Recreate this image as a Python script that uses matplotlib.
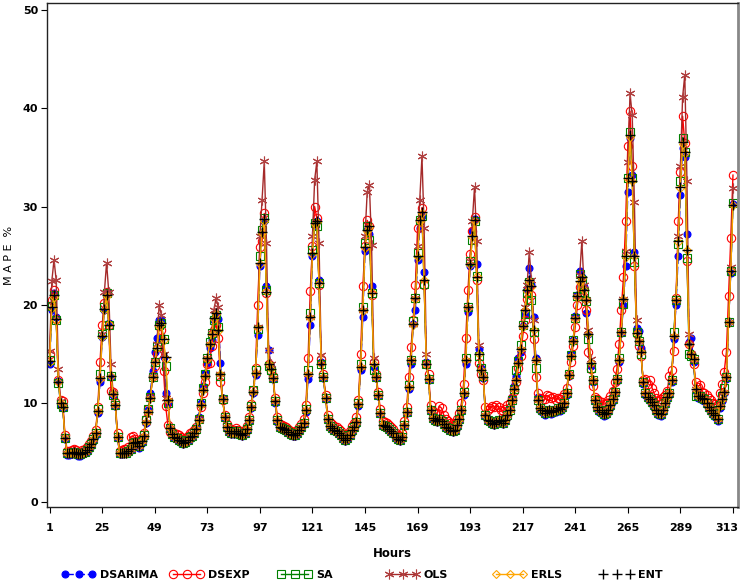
import matplotlib
matplotlib.use('Agg')
import matplotlib.pyplot as plt
import matplotlib.transforms as mtransforms
from matplotlib.lines import Line2D

hours = list(range(1, 314))
xticks = list(range(1, 314, 24))
yticks = [0, 10, 20, 30, 40, 50]
names = ['DSARIMA', 'DSEXP', 'SA', 'OLS', 'ERLS', 'ENT']

dsarima = [
 14.0, 19.5, 21.2, 18.8, 12.3, 9.8, 9.5, 6.4, 4.7, 4.7, 4.8, 4.9, 4.8, 4.6, 4.6, 4.8, 4.9, 5.1, 5.4, 5.7, 6.2, 6.8, 9.0, 12.2,
 16.7, 19.5, 21.3, 18.2, 12.7, 10.8, 9.7, 6.5, 4.8, 4.8, 4.9, 4.9, 5.1, 5.3, 5.8, 5.9, 5.8, 5.5, 6.0, 6.6, 8.0, 9.3, 11.0, 13.3,
 15.2, 16.6, 18.5, 18.5, 14.7, 11.1, 10.0, 7.4, 6.8, 6.5, 6.4, 6.2, 6.0, 5.9, 6.0, 6.2, 6.4, 6.6, 6.9, 7.5, 8.6, 10.0, 11.8, 13.1,
 14.1, 15.6, 16.4, 18.5, 19.0, 18.6, 14.1, 10.5, 8.5, 7.5, 7.1, 6.9, 6.9, 7.1, 6.9, 6.8, 6.7, 6.9, 7.3, 8.2, 9.5, 11.0, 12.9, 16.9,
 24.0, 27.3, 28.5, 21.9, 15.4, 13.7, 12.5, 10.0, 8.1, 7.5, 7.4, 7.3, 7.2, 7.0, 6.8, 6.7, 6.7, 6.9, 7.2, 7.5, 7.9, 9.1, 12.5, 18.0,
 25.0, 28.0, 28.5, 22.5, 14.2, 12.6, 10.4, 8.3, 7.6, 7.4, 7.2, 7.1, 6.9, 6.7, 6.4, 6.2, 6.4, 6.7, 7.2, 7.5, 8.0, 9.7, 13.4, 18.8,
 25.5, 27.6, 27.2, 21.9, 13.7, 12.6, 10.7, 8.9, 7.7, 7.6, 7.5, 7.3, 7.1, 6.9, 6.5, 6.3, 6.2, 6.5, 7.7, 9.0, 11.5, 14.0, 18.1, 19.5,
 24.6, 27.8, 29.0, 23.4, 14.2, 12.4, 9.2, 8.4, 8.2, 8.1, 8.3, 8.1, 7.8, 7.5, 7.4, 7.2, 7.1, 7.2, 7.7, 8.3, 9.2, 10.8, 14.0, 19.3,
 24.0, 27.5, 28.7, 24.2, 15.5, 13.6, 12.6, 8.7, 8.2, 8.1, 7.9, 7.8, 8.0, 8.2, 8.1, 7.9, 8.2, 8.8, 9.4, 10.6, 11.8, 12.8, 14.6, 15.2,
 17.9, 19.1, 21.5, 23.8, 22.0, 18.8, 14.6, 10.6, 9.3, 9.1, 8.8, 9.0, 9.1, 8.9, 9.0, 9.1, 9.3, 9.2, 9.4, 9.8, 10.8, 12.8, 15.0, 16.4,
 18.9, 21.0, 23.5, 22.8, 21.8, 19.2, 17.0, 13.8, 12.2, 10.2, 9.4, 9.1, 8.9, 8.7, 8.8, 9.1, 9.6, 10.2, 11.0, 12.3, 14.2, 17.1, 20.0, 24.0,
 31.5, 37.0, 33.2, 25.4, 17.7, 17.4, 15.6, 12.0, 10.8, 10.4, 10.2, 9.9, 9.6, 9.1, 8.8, 8.7, 9.1, 9.8, 10.4, 10.8, 12.2, 16.5, 20.0, 25.0,
 31.2, 36.0, 35.0, 27.2, 16.2, 16.6, 14.2, 11.3, 10.5, 10.5, 10.3, 10.2, 9.8, 9.4, 9.1, 8.8, 8.6, 8.2, 9.5, 10.2, 11.0, 12.5, 18.3, 23.3,
 30.3]

dsexp = [
 15.0, 20.5, 21.5, 18.6, 12.4, 10.3, 10.2, 6.8, 5.2, 5.2, 5.3, 5.4, 5.3, 5.1, 5.1, 5.3, 5.4, 5.6, 5.9, 6.2, 6.7, 7.3, 9.6, 14.2,
 18.0, 20.2, 21.3, 18.0, 11.3, 11.2, 10.1, 7.0, 5.2, 5.3, 5.4, 5.4, 5.6, 6.6, 6.7, 6.4, 6.2, 6.0, 6.5, 7.0, 8.4, 9.4, 10.6, 12.8,
 13.8, 15.0, 17.9, 17.5, 13.3, 9.7, 7.8, 7.1, 7.0, 7.0, 6.9, 6.8, 6.6, 6.4, 6.5, 6.7, 7.0, 7.1, 7.3, 7.6, 8.4, 9.6, 11.0, 12.2,
 14.0, 14.1, 15.8, 17.5, 18.0, 16.6, 12.2, 10.3, 8.8, 7.9, 7.5, 7.3, 7.3, 7.5, 7.3, 7.2, 7.1, 7.3, 7.7, 8.6, 9.9, 11.4, 13.6, 20.0,
 25.9, 26.5, 29.3, 21.2, 14.0, 13.3, 12.8, 10.5, 8.6, 7.9, 7.8, 7.7, 7.6, 7.4, 7.2, 7.1, 7.1, 7.3, 7.6, 7.9, 8.4, 9.8, 14.6, 21.4,
 26.0, 30.0, 28.8, 22.0, 14.5, 13.0, 10.8, 8.8, 8.1, 7.9, 7.7, 7.6, 7.4, 7.2, 6.9, 6.7, 6.9, 7.2, 7.7, 8.0, 8.6, 10.3, 15.0, 21.9,
 26.0, 28.6, 28.0, 21.0, 14.2, 13.0, 11.2, 9.4, 8.2, 8.1, 8.0, 7.8, 7.6, 7.4, 7.0, 6.8, 6.7, 7.0, 8.2, 9.6, 12.7, 15.7, 18.5, 22.0,
 27.8, 28.5, 29.9, 22.0, 14.0, 13.0, 9.8, 9.2, 9.0, 9.0, 9.7, 9.5, 8.8, 8.4, 8.2, 8.0, 7.9, 8.0, 8.4, 9.0, 10.0, 12.0, 16.6, 21.5,
 25.2, 27.5, 28.9, 22.5, 14.1, 13.0, 12.4, 9.6, 9.3, 9.5, 9.7, 9.6, 9.8, 9.6, 9.3, 9.2, 9.4, 9.8, 10.0, 10.5, 11.3, 12.2, 13.6, 14.8,
 16.8, 18.5, 20.6, 21.8, 21.0, 16.5, 12.7, 11.0, 10.5, 10.3, 10.4, 10.8, 10.7, 10.5, 10.6, 10.3, 10.5, 10.4, 10.6, 10.9, 11.6, 12.9, 14.2, 15.8,
 17.8, 20.0, 21.8, 22.2, 20.8, 19.5, 15.2, 13.5, 11.8, 10.6, 10.4, 10.2, 10.1, 9.9, 10.0, 10.3, 10.7, 11.3, 12.2, 13.5, 16.0, 19.5, 22.8, 28.5,
 36.2, 39.7, 34.1, 24.0, 17.0, 15.8, 14.8, 12.4, 12.5, 12.0, 12.4, 11.6, 11.0, 10.5, 10.2, 10.4, 10.6, 10.8, 11.3, 12.8, 13.4, 15.3, 20.7, 28.5,
 33.5, 39.2, 36.5, 24.5, 16.0, 15.0, 14.0, 12.2, 11.7, 11.9, 11.2, 11.0, 10.8, 10.5, 10.3, 10.0, 9.9, 9.8, 11.0, 12.0, 13.2, 15.2, 20.9, 26.8,
 33.2]

sa = [
 14.4, 19.9, 21.0, 18.5, 12.1, 9.9, 9.6, 6.5, 4.9, 4.9, 5.0, 5.1, 5.0, 4.8, 4.8, 5.0, 5.1, 5.3, 5.6, 5.9, 6.4, 7.0, 9.4, 13.0,
 17.0, 19.8, 21.2, 18.0, 12.8, 10.8, 9.8, 6.6, 4.9, 4.9, 5.0, 5.0, 5.2, 5.4, 6.0, 6.1, 6.0, 5.7, 6.2, 6.8, 8.3, 9.4, 10.6, 12.7,
 14.2, 15.8, 18.0, 18.2, 16.5, 13.8, 10.0, 7.5, 6.9, 6.6, 6.5, 6.3, 6.2, 6.0, 6.1, 6.3, 6.6, 6.7, 7.0, 7.4, 8.4, 10.0, 11.6, 13.0,
 14.6, 16.2, 17.2, 18.5, 19.0, 17.8, 12.8, 10.4, 8.6, 7.6, 7.2, 7.0, 7.0, 7.2, 7.0, 6.9, 6.8, 7.0, 7.4, 8.3, 9.7, 11.4, 13.4, 17.6,
 25.0, 27.6, 28.8, 21.5, 13.8, 13.4, 12.6, 10.2, 8.3, 7.6, 7.5, 7.4, 7.3, 7.1, 6.9, 6.8, 6.8, 7.0, 7.3, 7.6, 8.0, 9.4, 13.4, 19.2,
 25.6, 28.3, 28.0, 22.2, 14.0, 12.7, 10.5, 8.4, 7.7, 7.5, 7.3, 7.2, 7.0, 6.8, 6.5, 6.3, 6.5, 6.8, 7.3, 7.6, 8.1, 10.0, 14.0, 19.8,
 26.3, 28.0, 26.6, 21.2, 13.4, 12.7, 10.8, 9.0, 7.8, 7.7, 7.6, 7.4, 7.2, 7.0, 6.6, 6.4, 6.3, 6.6, 7.8, 9.1, 11.9, 14.4, 18.4, 20.7,
 25.3, 28.6, 29.0, 22.1, 14.0, 12.5, 9.3, 8.5, 8.3, 8.2, 8.4, 8.2, 7.9, 7.6, 7.5, 7.3, 7.2, 7.3, 7.8, 8.4, 9.3, 11.2, 14.6, 19.8,
 24.5, 26.6, 28.5, 22.9, 14.8, 13.6, 12.8, 8.8, 8.3, 8.2, 8.0, 7.9, 8.1, 8.3, 8.2, 8.0, 8.3, 8.8, 9.3, 10.3, 11.5, 13.4, 14.3, 15.9,
 18.0, 19.1, 21.2, 22.3, 20.5, 17.3, 13.6, 10.3, 9.5, 9.3, 9.0, 9.2, 9.3, 9.1, 9.2, 9.3, 9.5, 9.4, 9.6, 10.0, 11.1, 13.0, 14.9, 16.4,
 18.7, 20.9, 23.1, 22.5, 21.3, 20.4, 16.5, 13.6, 12.4, 10.3, 9.6, 9.3, 9.1, 8.9, 9.0, 9.3, 9.8, 10.4, 11.2, 12.5, 14.6, 17.3, 20.1, 25.2,
 32.9, 37.6, 32.9, 24.4, 17.3, 16.3, 15.0, 12.2, 11.0, 10.6, 10.4, 10.1, 9.8, 9.3, 9.0, 8.9, 9.3, 10.0, 10.6, 11.0, 12.4, 17.3, 20.5, 26.2,
 32.6, 37.0, 35.6, 24.8, 15.0, 14.8, 14.5, 10.7, 10.7, 10.7, 10.5, 10.4, 10.0, 9.6, 9.3, 9.0, 8.8, 8.4, 9.8, 10.7, 11.6, 12.7, 18.3, 23.5,
 30.4]

ols = [
 15.3, 22.4, 24.6, 22.5, 13.5, 10.2, 9.7, 6.6, 4.9, 4.9, 5.0, 5.1, 5.0, 4.8, 4.8, 5.0, 5.1, 5.3, 5.6, 5.9, 6.4, 7.0, 9.2, 12.6,
 17.0, 21.3, 24.3, 21.3, 14.0, 11.0, 9.8, 6.6, 4.9, 4.9, 5.0, 5.0, 5.2, 5.4, 6.0, 6.1, 6.0, 5.7, 6.2, 6.7, 8.1, 9.1, 10.5, 12.7,
 14.3, 16.0, 20.0, 19.0, 15.0, 10.5, 10.3, 7.5, 6.9, 6.6, 6.5, 6.3, 6.2, 6.0, 6.1, 6.3, 6.6, 6.7, 7.0, 7.4, 8.3, 9.8, 11.4, 12.8,
 14.6, 16.0, 17.2, 19.5, 20.7, 19.8, 13.0, 10.4, 8.6, 7.6, 7.2, 7.0, 7.0, 7.2, 7.0, 6.9, 6.8, 7.0, 7.4, 8.3, 9.6, 11.2, 13.1, 17.8,
 27.0, 30.7, 34.6, 26.3, 15.4, 14.0, 12.6, 10.2, 8.3, 7.6, 7.5, 7.4, 7.3, 7.1, 6.9, 6.8, 6.8, 7.0, 7.3, 7.6, 8.0, 9.3, 13.0, 18.8,
 27.0, 32.7, 34.6, 26.3, 14.9, 12.7, 10.5, 8.4, 7.7, 7.5, 7.3, 7.2, 7.0, 6.8, 6.5, 6.3, 6.5, 6.8, 7.3, 7.6, 8.1, 9.9, 13.7, 19.5,
 27.0, 31.5, 32.2, 26.1, 14.6, 12.7, 10.8, 9.0, 7.8, 7.7, 7.6, 7.4, 7.2, 7.0, 6.6, 6.4, 6.3, 6.6, 7.8, 9.1, 11.7, 14.4, 18.1, 20.7,
 26.0, 30.7, 35.1, 27.8, 15.0, 12.5, 9.3, 8.5, 8.3, 8.2, 8.4, 8.2, 7.9, 7.6, 7.5, 7.3, 7.2, 7.3, 7.8, 8.4, 9.3, 11.0, 14.4, 19.8,
 24.5, 28.5, 32.0, 26.5, 15.9, 13.4, 12.7, 8.8, 8.3, 8.2, 8.0, 7.9, 8.1, 8.3, 8.2, 8.0, 8.3, 8.8, 9.3, 10.3, 11.5, 12.4, 14.1, 15.5,
 17.9, 19.8, 22.0, 25.4, 22.5, 18.5, 14.4, 10.3, 9.5, 9.3, 9.0, 9.2, 9.3, 9.1, 9.2, 9.3, 9.5, 9.4, 9.6, 10.0, 11.0, 12.9, 14.8, 16.3,
 18.7, 20.9, 23.0, 26.5, 22.0, 20.5, 17.5, 14.5, 12.4, 10.3, 9.6, 9.3, 9.1, 8.9, 9.0, 9.3, 9.8, 10.4, 11.2, 12.5, 14.4, 17.3, 20.6, 25.5,
 34.5, 41.5, 39.3, 30.5, 18.5, 16.3, 15.2, 12.2, 11.0, 10.6, 10.4, 10.1, 9.8, 9.3, 9.0, 8.9, 9.3, 10.0, 10.6, 11.0, 12.4, 16.8, 20.5, 27.0,
 34.1, 41.1, 43.4, 32.6, 17.0, 15.0, 14.5, 11.5, 10.7, 10.7, 10.5, 10.4, 10.0, 9.6, 9.3, 9.0, 8.8, 8.4, 9.7, 10.4, 11.2, 12.7, 18.3, 23.9,
 31.9]

erls = [
 14.2, 19.7, 20.8, 18.5, 12.2, 10.0, 9.6, 6.5, 4.9, 4.9, 5.0, 5.1, 5.0, 4.8, 4.8, 5.0, 5.1, 5.3, 5.6, 5.9, 6.4, 7.0, 9.2, 12.5,
 16.7, 19.5, 20.9, 18.1, 12.8, 10.9, 9.8, 6.6, 4.9, 4.9, 5.0, 5.0, 5.2, 5.4, 6.0, 6.1, 6.0, 5.7, 6.2, 6.7, 8.1, 9.1, 10.5, 12.7,
 14.2, 15.6, 17.9, 18.1, 16.4, 14.5, 10.3, 7.5, 6.9, 6.6, 6.5, 6.3, 6.2, 6.0, 6.1, 6.3, 6.6, 6.7, 7.0, 7.4, 8.3, 9.8, 11.4, 12.8,
 14.5, 16.0, 17.0, 18.6, 19.1, 17.4, 13.0, 10.4, 8.6, 7.6, 7.2, 7.0, 7.0, 7.2, 7.0, 6.9, 6.8, 7.0, 7.4, 8.3, 9.6, 11.2, 13.1, 17.7,
 24.2, 27.3, 28.5, 21.4, 14.0, 13.5, 12.6, 10.2, 8.3, 7.6, 7.5, 7.4, 7.3, 7.1, 6.9, 6.8, 6.8, 7.0, 7.3, 7.6, 8.0, 9.3, 13.0, 18.7,
 25.2, 28.2, 28.4, 22.2, 14.0, 12.7, 10.5, 8.4, 7.7, 7.5, 7.3, 7.2, 7.0, 6.8, 6.5, 6.3, 6.5, 6.8, 7.3, 7.6, 8.1, 9.9, 13.7, 19.4,
 25.8, 27.5, 27.9, 21.3, 14.0, 12.7, 10.8, 9.0, 7.8, 7.7, 7.6, 7.4, 7.2, 7.0, 6.6, 6.4, 6.3, 6.6, 7.8, 9.1, 11.7, 14.4, 18.0, 20.6,
 24.9, 28.5, 29.4, 22.5, 14.0, 12.5, 9.3, 8.5, 8.3, 8.2, 8.4, 8.2, 7.9, 7.6, 7.5, 7.3, 7.2, 7.3, 7.8, 8.4, 9.3, 11.0, 14.4, 19.7,
 24.1, 26.9, 28.5, 22.9, 15.0, 13.4, 12.7, 8.8, 8.3, 8.2, 8.0, 7.9, 8.1, 8.3, 8.2, 8.0, 8.3, 8.8, 9.3, 10.3, 11.5, 12.4, 14.1, 15.5,
 17.8, 19.5, 21.4, 22.4, 21.8, 17.5, 14.4, 10.3, 9.5, 9.3, 9.0, 9.2, 9.3, 9.1, 9.2, 9.3, 9.5, 9.4, 9.6, 10.0, 11.0, 12.9, 14.8, 16.3,
 18.6, 20.8, 22.3, 22.7, 21.5, 20.5, 17.0, 14.1, 12.4, 10.3, 9.6, 9.3, 9.1, 8.9, 9.0, 9.3, 9.8, 10.4, 11.2, 12.5, 14.4, 17.3, 20.6, 24.9,
 32.8, 37.1, 32.6, 25.0, 17.2, 16.3, 15.2, 12.2, 11.0, 10.6, 10.4, 10.1, 9.8, 9.3, 9.0, 8.9, 9.3, 10.0, 10.6, 11.0, 12.4, 16.8, 20.5, 26.4,
 31.9, 36.4, 35.5, 25.6, 16.0, 15.0, 14.5, 11.5, 10.7, 10.7, 10.5, 10.4, 10.0, 9.6, 9.3, 9.0, 8.8, 8.4, 9.7, 10.4, 11.2, 12.7, 18.3, 23.5,
 30.2]

ent = [
 14.3, 19.8, 21.0, 18.6, 12.2, 10.0, 9.6, 6.5, 4.9, 4.9, 5.0, 5.1, 5.0, 4.8, 4.8, 5.0, 5.1, 5.3, 5.6, 5.9, 6.4, 7.0, 9.2, 12.6,
 16.8, 19.6, 21.0, 18.0, 12.8, 10.9, 9.8, 6.6, 4.9, 4.9, 5.0, 5.0, 5.2, 5.4, 6.0, 6.1, 6.0, 5.7, 6.2, 6.7, 8.1, 9.1, 10.5, 12.7,
 14.2, 15.6, 18.0, 18.2, 16.5, 14.7, 10.3, 7.5, 6.9, 6.6, 6.5, 6.3, 6.2, 6.0, 6.1, 6.3, 6.6, 6.7, 7.0, 7.4, 8.3, 9.8, 11.4, 12.8,
 14.6, 16.0, 17.0, 18.7, 19.2, 17.5, 13.0, 10.4, 8.6, 7.6, 7.2, 7.0, 7.0, 7.2, 7.0, 6.9, 6.8, 7.0, 7.4, 8.3, 9.6, 11.2, 13.1, 17.8,
 24.3, 27.4, 28.7, 21.3, 14.0, 13.5, 12.6, 10.2, 8.3, 7.6, 7.5, 7.4, 7.3, 7.1, 6.9, 6.8, 6.8, 7.0, 7.3, 7.6, 8.0, 9.3, 13.0, 18.8,
 25.3, 28.3, 28.5, 22.2, 14.0, 12.7, 10.5, 8.4, 7.7, 7.5, 7.3, 7.2, 7.0, 6.8, 6.5, 6.3, 6.5, 6.8, 7.3, 7.6, 8.1, 9.9, 13.7, 19.5,
 25.9, 27.6, 28.0, 21.2, 14.0, 12.7, 10.8, 9.0, 7.8, 7.7, 7.6, 7.4, 7.2, 7.0, 6.6, 6.4, 6.3, 6.6, 7.8, 9.1, 11.7, 14.4, 18.1, 20.7,
 25.0, 28.6, 29.5, 22.5, 14.0, 12.5, 9.3, 8.5, 8.3, 8.2, 8.4, 8.2, 7.9, 7.6, 7.5, 7.3, 7.2, 7.3, 7.8, 8.4, 9.3, 11.0, 14.4, 19.8,
 24.2, 27.0, 28.6, 22.8, 15.0, 13.4, 12.7, 8.8, 8.3, 8.2, 8.0, 7.9, 8.1, 8.3, 8.2, 8.0, 8.3, 8.8, 9.3, 10.3, 11.5, 12.4, 14.1, 15.5,
 17.9, 19.5, 21.5, 22.5, 21.9, 17.5, 14.4, 10.3, 9.5, 9.3, 9.0, 9.2, 9.3, 9.1, 9.2, 9.3, 9.5, 9.4, 9.6, 10.0, 11.0, 12.9, 14.8, 16.3,
 18.7, 20.9, 22.4, 22.8, 21.5, 20.5, 17.0, 14.1, 12.4, 10.3, 9.6, 9.3, 9.1, 8.9, 9.0, 9.3, 9.8, 10.4, 11.2, 12.5, 14.4, 17.3, 20.6, 25.0,
 32.9, 37.3, 32.6, 25.0, 17.2, 16.3, 15.2, 12.2, 11.0, 10.6, 10.4, 10.1, 9.8, 9.3, 9.0, 8.9, 9.3, 10.0, 10.6, 11.0, 12.4, 16.8, 20.5, 26.5,
 32.0, 36.6, 35.6, 25.6, 16.0, 15.0, 14.5, 11.5, 10.7, 10.7, 10.5, 10.4, 10.0, 9.6, 9.3, 9.0, 8.8, 8.4, 9.7, 10.4, 11.2, 12.7, 18.3, 23.5,
 30.2]

styles = [
    dict(color='#0000FF', ls=(0, (6, 2)), lw=1.0, marker='o', ms=5.0, mfc='#0000FF', mec='#0000FF', mew=0.8),
    dict(color='#FF0000', ls='-', lw=1.0, marker='o', ms=6.0, mfc='none', mec='#FF0000', mew=0.8),
    dict(color='#008000', ls='-', lw=1.0, marker='s', ms=5.4, mfc='none', mec='#008000', mew=0.8),
    dict(color='#A52A2A', ls='-', lw=1.0, marker=(6, 2, 0), ms=7, mfc='none', mec='#B04040', mew=0.8),
    dict(color='#FFA500', ls='-', lw=1.0, marker='D', ms=4.4, mfc='none', mec='#FFA500', mew=0.8),
    dict(color='black', ls='none', lw=1.0, marker='+', ms=6.5, mec='black', mew=1.0),
]
data = [dsarima, dsexp, sa, ols, erls, ent]

W, H = 740, 588
fig = plt.figure(figsize=(W / 100, H / 100), dpi=100)
ax = fig.add_axes([47 / W, 1 - 507 / H, (738 - 47) / W, (507 - 3) / H])

for vals, st in zip(data, styles):
    ax.plot(hours, vals, **st)

ax.set_xlim(-0.2, 315.3)
ax.set_ylim(-0.54, 50.7)
ax.set_xticks(xticks)
ax.set_yticks(yticks)
ax.tick_params(direction='out', length=4.5, width=0.8, labelsize=8)
ax.tick_params(axis='x', pad=7)
ax.tick_params(axis='y', pad=2)
for lab in ax.get_xticklabels() + ax.get_yticklabels():
    lab.set_fontweight('bold')
# keep the last tick label inside the figure
last = ax.get_xticklabels()[-1]
last.set_transform(last.get_transform() + mtransforms.ScaledTranslation(-6 / 100, 0, fig.dpi_scale_trans))

for sp in ax.spines.values():
    sp.set_linewidth(1.0)
    sp.set_color('#222222')
ax.spines['right'].set_color('#888888')
ax.spines['right'].set_linewidth(2.0)

ax.set_xlabel('Hours', fontsize=8.5, fontweight='bold', labelpad=10)
ax.set_ylabel('M A P E  %', fontsize=8, labelpad=6)

xpos = [62, 170, 278, 386, 493, 600]
for name, st, x0 in zip(names, styles, xpos):
    h = Line2D([], [], **st)
    fig.legend(handles=[h], labels=[name], loc='center left',
               bbox_to_anchor=(x0 / W, 1 - 575 / H), frameon=False,
               handlelength=3.0, numpoints=3, handletextpad=0.4,
               borderpad=0, borderaxespad=0,
               prop={'size': 8, 'weight': 'bold'})

fig.savefig('out.png', dpi=100)
